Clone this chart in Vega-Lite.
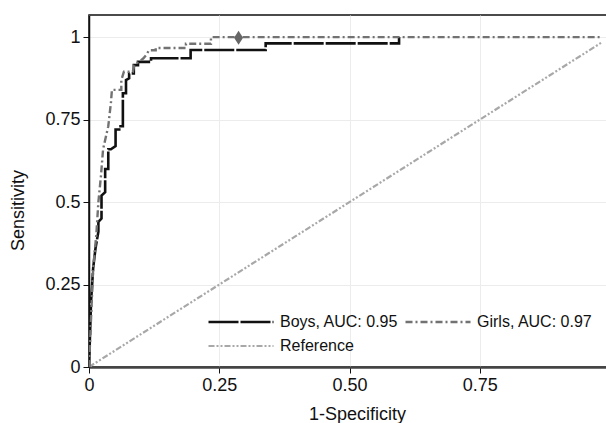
{
  "$schema": "https://vega.github.io/schema/vega-lite/v6.json",
  "width": 518,
  "height": 352,
  "autosize": {"type": "none"},
  "padding": {"left": 89, "top": 15, "right": -1, "bottom": 56},
  "background": "white",
  "config": {
    "view": {"stroke": "#111", "strokeWidth": 1.5},
    "font": "Liberation Sans",
    "axis": {
      "labelFont": "Liberation Sans",
      "titleFont": "Liberation Sans",
      "labelFontSize": 18,
      "titleFontSize": 18,
      "labelColor": "#111",
      "titleColor": "#111",
      "titleFontWeight": "normal",
      "gridColor": "#ececec",
      "gridWidth": 1,
      "tickColor": "#111",
      "tickSize": 6,
      "labelPadding": 3
    },
    "legend": {
      "labelFont": "Liberation Sans",
      "labelFontSize": 16,
      "labelColor": "#111"
    }
  },
  "data": {
    "values": [
      {"series": "Reference", "i": 0, "x": 0, "y": 0},
      {"series": "Reference", "i": 1, "x": 0.985, "y": 0.985},

      {"series": "Boys, AUC: 0.95", "i": 0, "x": 0, "y": 0},
      {"series": "Boys, AUC: 0.95", "i": 1, "x": 0.002, "y": 0.10},
      {"series": "Boys, AUC: 0.95", "i": 2, "x": 0.004, "y": 0.20},
      {"series": "Boys, AUC: 0.95", "i": 3, "x": 0.008, "y": 0.30},
      {"series": "Boys, AUC: 0.95", "i": 4, "x": 0.0125, "y": 0.36},
      {"series": "Boys, AUC: 0.95", "i": 5, "x": 0.018, "y": 0.41},
      {"series": "Boys, AUC: 0.95", "i": 6, "x": 0.018, "y": 0.44},
      {"series": "Boys, AUC: 0.95", "i": 7, "x": 0.024, "y": 0.45},
      {"series": "Boys, AUC: 0.95", "i": 8, "x": 0.024, "y": 0.52},
      {"series": "Boys, AUC: 0.95", "i": 9, "x": 0.031, "y": 0.53},
      {"series": "Boys, AUC: 0.95", "i": 10, "x": 0.031, "y": 0.60},
      {"series": "Boys, AUC: 0.95", "i": 11, "x": 0.037, "y": 0.60},
      {"series": "Boys, AUC: 0.95", "i": 12, "x": 0.037, "y": 0.66},
      {"series": "Boys, AUC: 0.95", "i": 13, "x": 0.042, "y": 0.66},
      {"series": "Boys, AUC: 0.95", "i": 14, "x": 0.051, "y": 0.67},
      {"series": "Boys, AUC: 0.95", "i": 15, "x": 0.051, "y": 0.72},
      {"series": "Boys, AUC: 0.95", "i": 16, "x": 0.058, "y": 0.72},
      {"series": "Boys, AUC: 0.95", "i": 17, "x": 0.058, "y": 0.73},
      {"series": "Boys, AUC: 0.95", "i": 18, "x": 0.065, "y": 0.73},
      {"series": "Boys, AUC: 0.95", "i": 19, "x": 0.065, "y": 0.83},
      {"series": "Boys, AUC: 0.95", "i": 20, "x": 0.071, "y": 0.83},
      {"series": "Boys, AUC: 0.95", "i": 21, "x": 0.071, "y": 0.87},
      {"series": "Boys, AUC: 0.95", "i": 22, "x": 0.077, "y": 0.875},
      {"series": "Boys, AUC: 0.95", "i": 23, "x": 0.077, "y": 0.89},
      {"series": "Boys, AUC: 0.95", "i": 24, "x": 0.086, "y": 0.89},
      {"series": "Boys, AUC: 0.95", "i": 25, "x": 0.086, "y": 0.915},
      {"series": "Boys, AUC: 0.95", "i": 26, "x": 0.094, "y": 0.915},
      {"series": "Boys, AUC: 0.95", "i": 27, "x": 0.094, "y": 0.925},
      {"series": "Boys, AUC: 0.95", "i": 28, "x": 0.119, "y": 0.925},
      {"series": "Boys, AUC: 0.95", "i": 29, "x": 0.119, "y": 0.936},
      {"series": "Boys, AUC: 0.95", "i": 30, "x": 0.195, "y": 0.936},
      {"series": "Boys, AUC: 0.95", "i": 31, "x": 0.195, "y": 0.961},
      {"series": "Boys, AUC: 0.95", "i": 32, "x": 0.339, "y": 0.961},
      {"series": "Boys, AUC: 0.95", "i": 33, "x": 0.339, "y": 0.981},
      {"series": "Boys, AUC: 0.95", "i": 34, "x": 0.595, "y": 0.981},
      {"series": "Boys, AUC: 0.95", "i": 35, "x": 0.595, "y": 1.0},

      {"series": "Girls, AUC: 0.97", "i": 0, "x": 0, "y": 0},
      {"series": "Girls, AUC: 0.97", "i": 1, "x": 0.004, "y": 0.15},
      {"series": "Girls, AUC: 0.97", "i": 2, "x": 0.008, "y": 0.30},
      {"series": "Girls, AUC: 0.97", "i": 3, "x": 0.014, "y": 0.40},
      {"series": "Girls, AUC: 0.97", "i": 4, "x": 0.018, "y": 0.50},
      {"series": "Girls, AUC: 0.97", "i": 5, "x": 0.023, "y": 0.58},
      {"series": "Girls, AUC: 0.97", "i": 6, "x": 0.027, "y": 0.66},
      {"series": "Girls, AUC: 0.97", "i": 7, "x": 0.037, "y": 0.73},
      {"series": "Girls, AUC: 0.97", "i": 8, "x": 0.042, "y": 0.80},
      {"series": "Girls, AUC: 0.97", "i": 9, "x": 0.044, "y": 0.84},
      {"series": "Girls, AUC: 0.97", "i": 10, "x": 0.062, "y": 0.84},
      {"series": "Girls, AUC: 0.97", "i": 11, "x": 0.062, "y": 0.87},
      {"series": "Girls, AUC: 0.97", "i": 12, "x": 0.067, "y": 0.895},
      {"series": "Girls, AUC: 0.97", "i": 13, "x": 0.084, "y": 0.895},
      {"series": "Girls, AUC: 0.97", "i": 14, "x": 0.087, "y": 0.915},
      {"series": "Girls, AUC: 0.97", "i": 15, "x": 0.104, "y": 0.935},
      {"series": "Girls, AUC: 0.97", "i": 16, "x": 0.11, "y": 0.946},
      {"series": "Girls, AUC: 0.97", "i": 17, "x": 0.115, "y": 0.96},
      {"series": "Girls, AUC: 0.97", "i": 18, "x": 0.128, "y": 0.96},
      {"series": "Girls, AUC: 0.97", "i": 19, "x": 0.128, "y": 0.967},
      {"series": "Girls, AUC: 0.97", "i": 20, "x": 0.186, "y": 0.967},
      {"series": "Girls, AUC: 0.97", "i": 21, "x": 0.186, "y": 0.98},
      {"series": "Girls, AUC: 0.97", "i": 22, "x": 0.234, "y": 0.98},
      {"series": "Girls, AUC: 0.97", "i": 23, "x": 0.234, "y": 1.0},
      {"series": "Girls, AUC: 0.97", "i": 24, "x": 0.983, "y": 1.0}
    ]
  },
  "encoding": {
    "x": {
      "field": "x", "type": "quantitative",
      "scale": {"domain": [0, 0.994], "nice": false, "zero": false},
      "axis": {
        "orient": "bottom",
        "values": [0, 0.25, 0.5, 0.75],
        "labelExpr": "datum.value == 0 ? '0' : format(datum.value, '.2f')",
        "title": "1-Specificity",
        "titleX": 268,
        "titleY": 52,
        "titleBaseline": "alphabetic",
        "domainColor": "#444",
        "domainWidth": 2.5,
        "labelFlush": false
      }
    },
    "y": {
      "field": "y", "type": "quantitative",
      "scale": {"domain": [0, 1.067], "nice": false},
      "axis": {
        "values": [0, 0.25, 0.5, 0.75, 1],
        "labelExpr": "format(datum.value, '~g')",
        "title": "Sensitivity",
        "titleX": -71,
        "titleY": 195,
        "titleBaseline": "middle",
        "titleAngle": -90,
        "domainColor": "#111",
        "domainWidth": 1.5,
        "labelFlush": false
      }
    }
  },
  "layer": [
    {
      "transform": [{"filter": "datum.series == 'Reference'"}],
      "mark": {"type": "line", "clip": true},
      "encoding": {
        "order": {"field": "i", "type": "quantitative"},
        "color": {
          "field": "series", "type": "nominal",
          "scale": {
            "domain": ["Boys, AUC: 0.95", "Girls, AUC: 0.97", "Reference"],
            "range": ["#111111", "#727272", "#a8a8a8"]
          },
          "legend": {
            "orient": "none",
            "direction": "horizontal",
            "legendX": 144,
            "legendY": 299,
            "columns": 2,
            "title": null,
            "symbolType": "M-5,0H5",
            "symbolSize": 169,
            "labelOffset": 31,
            "rowPadding": 8,
            "columnPadding": 1,
            "padding": 0
          }
        },
        "strokeDash": {
          "field": "series", "type": "nominal",
          "scale": {
            "domain": ["Boys, AUC: 0.95", "Girls, AUC: 0.97", "Reference"],
            "range": [[30, 2], [7, 3, 2, 3], [6, 2, 2, 2, 2, 2]]
          },
          "legend": {
            "orient": "none",
            "direction": "horizontal",
            "legendX": 144,
            "legendY": 299,
            "columns": 2,
            "title": null,
            "symbolType": "M-5,0H5",
            "symbolSize": 169,
            "labelOffset": 31,
            "rowPadding": 8,
            "columnPadding": 1,
            "padding": 0
          }
        },
        "strokeWidth": {
          "field": "series", "type": "nominal",
          "scale": {
            "domain": ["Boys, AUC: 0.95", "Girls, AUC: 0.97", "Reference"],
            "range": [2.6, 2.2, 1.2]
          },
          "legend": {
            "orient": "none",
            "direction": "horizontal",
            "legendX": 144,
            "legendY": 299,
            "columns": 2,
            "title": null,
            "symbolType": "M-5,0H5",
            "symbolSize": 169,
            "labelOffset": 31,
            "rowPadding": 8,
            "columnPadding": 1,
            "padding": 0
          }
        }
      }
    },
    {
      "transform": [{"filter": "datum.series == 'Boys, AUC: 0.95'"}],
      "mark": {"type": "line", "clip": true},
      "encoding": {
        "order": {"field": "i", "type": "quantitative"},
        "color": {"field": "series", "type": "nominal"},
        "strokeDash": {"field": "series", "type": "nominal"},
        "strokeWidth": {"field": "series", "type": "nominal"}
      }
    },
    {
      "transform": [{"filter": "datum.series == 'Girls, AUC: 0.97'"}],
      "mark": {"type": "line", "clip": true},
      "encoding": {
        "order": {"field": "i", "type": "quantitative"},
        "color": {"field": "series", "type": "nominal"},
        "strokeDash": {"field": "series", "type": "nominal"},
        "strokeWidth": {"field": "series", "type": "nominal"}
      }
    },
    {
      "data": {"values": [{"x": 0.287, "y": 0.998}]},
      "mark": {
        "type": "point",
        "filled": true,
        "shape": "M0,-1.4L0.9,0L0,1.4L-0.9,0Z",
        "size": 100,
        "color": "#666666",
        "opacity": 1
      },
      "encoding": {
        "x": {"field": "x", "type": "quantitative"},
        "y": {"field": "y", "type": "quantitative"}
      }
    }
  ]
}
